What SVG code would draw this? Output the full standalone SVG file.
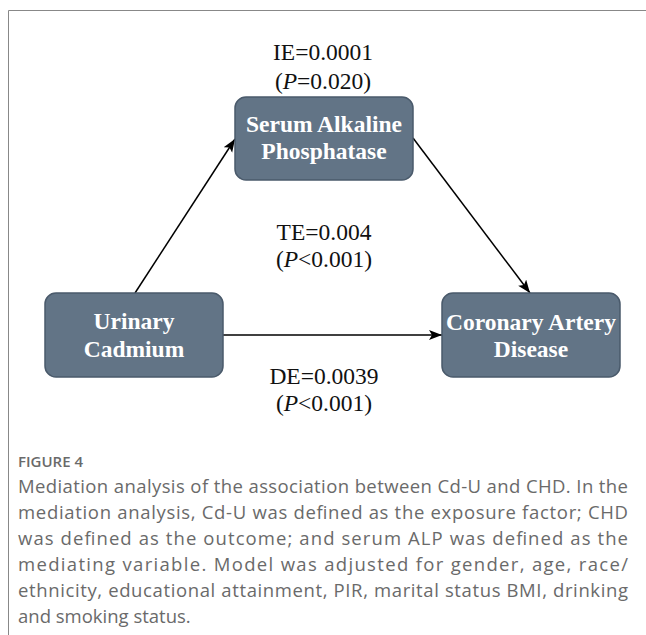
<svg xmlns="http://www.w3.org/2000/svg" width="646" height="635" viewBox="0 0 646 635">
<style>
.box{fill:#627486;stroke:#4a5a6b;stroke-width:1.5}
.nt{font-family:"Liberation Serif","Times New Roman",serif;font-weight:bold;font-size:23.5px;fill:#ffffff;text-anchor:middle}
.lb{font-family:"Liberation Serif","Times New Roman",serif;font-size:23.5px;fill:#111111;text-anchor:middle}
.ln{stroke:#000000;stroke-width:1.5;fill:none}
.cap{font-family:"Open Sans","Noto Sans",sans-serif;font-size:18.5px;fill:#6a6a6a}
.fig{font-family:"Open Sans","Noto Sans",sans-serif;font-size:15px;font-weight:600;fill:#6a6a6a}
</style>
<defs>
<marker id="ah" markerUnits="userSpaceOnUse" markerWidth="14" markerHeight="12" refX="13" refY="5" orient="auto">
<path d="M0,0 L13,5 L0,10 L3,5 z" fill="#000000"/>
</marker>
</defs>
<rect width="646" height="635" fill="#ffffff"/>
<path d="M646,10.5 H8.5 V635" fill="none" stroke="#888888" stroke-width="1"/>
<g id="connectors">
<line class="ln" x1="135" y1="293" x2="235" y2="139" marker-end="url(#ah)"/>
<line class="ln" x1="413" y1="138" x2="530" y2="293" marker-end="url(#ah)"/>
<line class="ln" x1="223" y1="335" x2="442" y2="335" marker-end="url(#ah)"/>
</g>
<g id="node-serum">
<rect class="box" x="235" y="97" width="178" height="83" rx="11"/>
<text class="nt" x="324" y="132">Serum Alkaline</text>
<text class="nt" x="324" y="159">Phosphatase</text>
</g>
<g id="node-urinary">
<rect class="box" x="45" y="293" width="178" height="84" rx="11"/>
<text class="nt" x="134" y="329">Urinary</text>
<text class="nt" x="134" y="357">Cadmium</text>
</g>
<g id="node-cad">
<rect class="box" x="442" y="293" width="178" height="84" rx="11"/>
<text class="nt" x="531" y="330">Coronary Artery</text>
<text class="nt" x="531" y="357">Disease</text>
</g>
<g id="labels">
<text class="lb" x="323" y="60">IE=0.0001</text>
<text class="lb" x="323" y="89">(<tspan font-style="italic">P</tspan>=0.020)</text>
<text class="lb" x="324" y="240">TE=0.004</text>
<text class="lb" x="324" y="267">(<tspan font-style="italic">P</tspan>&lt;0.001)</text>
<text class="lb" x="324" y="384">DE=0.0039</text>
<text class="lb" x="324" y="411">(<tspan font-style="italic">P</tspan>&lt;0.001)</text>
</g>
<g id="caption">
<text class="fig" x="18" y="467">FIGURE 4</text>
<text class="cap" x="18" y="493" textLength="610" lengthAdjust="spacing">Mediation analysis of the association between Cd-U and CHD. In the</text>
<text class="cap" x="18" y="519" textLength="610" lengthAdjust="spacing">mediation analysis, Cd-U was defined as the exposure factor; CHD</text>
<text class="cap" x="18" y="545" textLength="610" lengthAdjust="spacing">was defined as the outcome; and serum ALP was defined as the</text>
<text class="cap" x="18" y="571" textLength="610" lengthAdjust="spacing">mediating variable. Model was adjusted for gender, age, race/</text>
<text class="cap" x="18" y="597" textLength="610" lengthAdjust="spacing">ethnicity, educational attainment, PIR, marital status BMI, drinking</text>
<text class="cap" x="18" y="623">and smoking status.</text>
</g>
</svg>
